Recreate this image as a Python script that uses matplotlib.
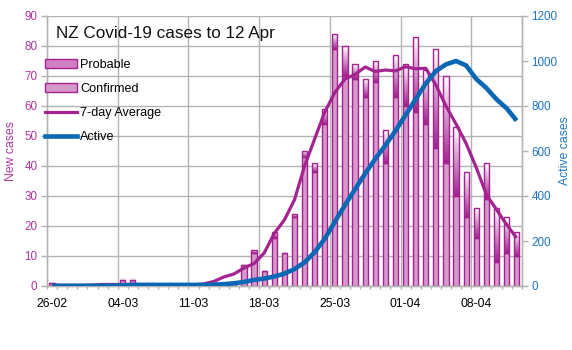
import numpy as np
import matplotlib
matplotlib.use('Agg')
import matplotlib.pyplot as plt
from matplotlib.colors import LinearSegmentedColormap
from matplotlib.lines import Line2D
from matplotlib.patches import Patch

plt.rcParams['font.family'] = ['Liberation Sans', 'DejaVu Sans']

# ---------------- data ----------------
dates = ['26-02', '27-02', '28-02', '29-02',
         '01-03', '02-03', '03-03', '04-03', '05-03', '06-03', '07-03', '08-03',
         '09-03', '10-03', '11-03', '12-03', '13-03', '14-03', '15-03', '16-03',
         '17-03', '18-03', '19-03', '20-03', '21-03', '22-03', '23-03', '24-03',
         '25-03', '26-03', '27-03', '28-03', '29-03', '30-03', '31-03',
         '01-04', '02-04', '03-04', '04-04', '05-04', '06-04', '07-04', '08-04',
         '09-04', '10-04', '11-04', '12-04']

tick_labels = ['26-02', '04-03', '11-03', '18-03', '25-03', '01-04', '08-04']

confirmed = [1, 0, 0, 0, 0, 0, 0, 2, 2, 0, 0, 0, 0, 0, 0, 0, 1, 1, 1, 7,
             11, 5, 16, 11, 23, 43, 38, 54, 79, 70, 69, 63, 68, 41, 63, 60,
             58, 54, 46, 41, 30, 23, 16, 29, 8, 11, 10]

probable = [0, 0, 0, 0, 0, 0, 0, 0, 0, 0, 0, 0, 0, 0, 0, 0, 0, 0, 0, 0,
            1, 0, 2, 0, 1, 2, 3, 5, 5, 10, 5, 6, 7, 11, 14, 14,
            25, 18, 33, 29, 23, 15, 10, 12, 18, 12, 8]

avg7 = [0.3, 0.2, 0.2, 0.2, 0.3, 0.5, 0.5, 0.5, 0.5, 0.5, 0.5, 0.3, 0.2, 0.3,
        0.4, 0.7, 1.5, 3.0, 4.0, 6.0, 7.5, 11.0, 17.5, 22.0, 28.7, 40.0, 49.0,
        58.0, 64.5, 69.0, 70.5, 73.0, 71.5, 72.0, 71.7, 73.1, 72.4, 72.6, 67.0,
        60.0, 54.0, 47.5, 39.5, 30.5, 25.5, 20.5, 16.0]

active = [1, 1, 1, 1, 1, 1, 1, 3, 5, 5, 5, 5, 5, 5, 5, 5, 6, 8, 12, 18,
          27, 33, 42, 55, 75, 105, 150, 210, 285, 360, 430, 500, 565, 625, 690, 760,
          830, 900, 955, 985, 1000, 980, 920, 880, 830, 790, 735]

# ---------------- style ----------------
W, H = 572, 350
edge_c = '#a3228f'
conf_c = '#d699cb'
avg_c = '#a3238f'
act_c = '#0868b4'
grid_c = '#b3b3b3'
left_lab_c = '#b0359e'
right_lab_c = '#1f74c2'
fs_tick = 8.4
fs_x = 8.7
fs_leg = 9.1
fs_lab = 8.8

fig = plt.figure(figsize=(W / 100, H / 100), dpi=100)
x0, x1 = 47, 521.7
y0, y1 = 286, 16
ax = fig.add_axes([x0 / W, 1 - y0 / H, (x1 - x0) / W, (y0 - y1) / H])
ax2 = ax.twinx()

x = np.arange(len(dates))
conf = np.array(confirmed, float)
prob = np.array(probable, float)

ax.set_axisbelow(True)
bw = 0.52
ax.bar(x, conf, width=bw, color=conf_c, edgecolor=edge_c, linewidth=1.0, zorder=2)
pbars = ax.bar(x, prob, bottom=conf, width=bw, facecolor='none',
               edgecolor=edge_c, linewidth=1.0, zorder=3)
cmap = LinearSegmentedColormap.from_list('prob', ['#a3228f', '#ffffff'])
grad = np.linspace(0, 1, 64).reshape(-1, 1)
for r in pbars:
    h = r.get_height()
    if h <= 0:
        continue
    bx = r.get_x()
    ww = r.get_width()
    by = r.get_y()
    ax.imshow(grad, extent=[bx, bx + ww, by, by + h], origin='lower',
              cmap=cmap, aspect='auto', zorder=2.5, interpolation='bilinear')

ax.plot(x, avg7, color=avg_c, lw=2.3, zorder=4, solid_capstyle='butt')
ax2.plot(x, active, color=act_c, lw=3.3, zorder=5, solid_capstyle='butt')

ax.set_xlim(-0.5, len(dates) - 0.5)
ax.set_ylim(0, 90)
ax2.set_ylim(0, 1200)
ax.set_aspect('auto')

# grid
ax.set_yticks(np.arange(0, 91, 10))
ax.yaxis.grid(True, color=grid_c, lw=1.0)
for k in range(1, 7):
    ax.axvline(-0.5 + 7 * k, color=grid_c, lw=1.0, zorder=0.5)

# x ticks
tick_pos = [dates.index(t) for t in tick_labels]
ax.set_xticks(tick_pos)
ax.set_xticklabels(tick_labels, fontsize=fs_x, color='black')
ax.tick_params(axis='x', which='major', length=0, pad=8.5)
ax.set_xticks(np.arange(-0.5, len(dates), 1), minor=True)
ax.tick_params(axis='x', which='minor', length=2.5, width=1, color=grid_c, direction='out')

ax.tick_params(axis='y', length=4, width=1, color=grid_c, labelsize=fs_tick,
               labelcolor=left_lab_c, pad=3)
ax2.set_yticks(np.arange(0, 1201, 200))
ax2.tick_params(axis='y', length=4, width=1, color=grid_c, labelsize=fs_tick,
                labelcolor=right_lab_c, pad=3)

for a in (ax, ax2):
    a.spines['top'].set_visible(False)
    for s in ('left', 'right', 'bottom'):
        a.spines[s].set_color(grid_c)
        a.spines[s].set_linewidth(1.0)

ax.set_ylabel('New cases', color=left_lab_c, fontsize=fs_lab, labelpad=5)
ax2.set_ylabel('Active cases', color=right_lab_c, fontsize=fs_lab, labelpad=1)

# title
fig.text(56.5 / W, 1 - 38.3 / H, 'NZ Covid-19 cases to 12 Apr', fontsize=12.3,
         color='#111111', va='baseline', ha='left')

# legend
handles = [Patch(facecolor='#cf7fc2', edgecolor=edge_c, linewidth=1.0),
           Patch(facecolor=conf_c, edgecolor=edge_c, linewidth=1.0),
           Line2D([], [], color=avg_c, lw=2.3),
           Line2D([], [], color=act_c, lw=3.3)]
labels = ['Probable', 'Confirmed', '7-day Average', 'Active']
leg = ax2.legend(handles, labels, loc='upper left',
                 bbox_to_anchor=(45 / W, 1 - 59.0 / H), bbox_transform=fig.transFigure,
                 frameon=False, fontsize=fs_leg, handlelength=2.5, handleheight=0.65,
                 handletextpad=0.3, labelspacing=0.96, borderpad=0, borderaxespad=0)
leg.set_zorder(10)

fig.savefig('out.png', dpi=100)
